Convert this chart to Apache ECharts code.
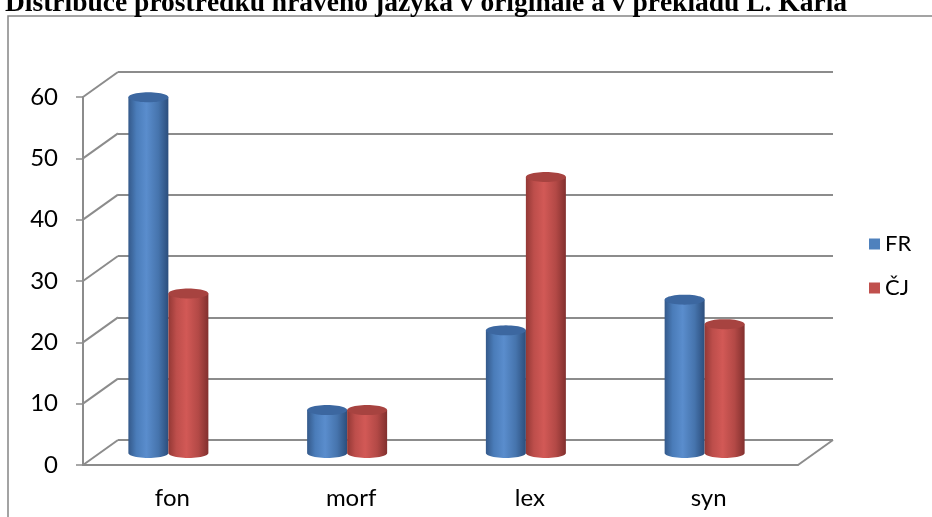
<!DOCTYPE html>
<html>
<head>
<meta charset="utf-8">
<script src="https://cdn.jsdelivr.net/npm/echarts@6/dist/echarts.min.js"></script>
<style>
  html, body { margin: 0; padding: 0; background: #fff; }
  #chart { width: 932px; height: 517px; }
</style>
</head>
<body>
<div id="chart"></div>
<script>
const titleText = 'Distribuce prostředků hravého jazyka v originále a v překladu L. Karla'
const categories = ['fon', 'morf', 'lex', 'syn']
const frValues = [58, 7, 20, 25]
const cjValues = [26, 7, 45, 21]
const yTicks = [0, 10, 20, 30, 40, 50, 60]

const DX = 35 // depth of the fake 3d box
const DY = 25
const gridColor = '#8c8c8c'
const labelFont = 'Lato, "Open Sans", sans-serif'

const chart = echarts.init(document.getElementById('chart'))

// cylinder: body with lower half ellipse + top ellipse
function cylinder (stops, topColor, dx) {
  return function (params, api) {
    const top = api.coord([api.value(0), api.value(1)])
    const base = api.coord([api.value(0), 0])
    const rx = 20
    const ry = 5
    const cx = top[0] + dx
    const body = [[cx - rx, top[1]]]
    for (let i = 0; i <= 24; i++) {
      const a = Math.PI - Math.PI * i / 24
      body.push([cx + rx * Math.cos(a), base[1] + ry * Math.sin(a)])
    }
    body.push([cx + rx, top[1]])
    const cap = []
    for (let i = 0; i < 48; i++) {
      const a = Math.PI * 2 * i / 48
      cap.push([cx + rx * Math.cos(a), top[1] + ry * Math.sin(a)])
    }
    return {
      type: 'group',
      children: [
        {
          type: 'polygon',
          shape: { points: body },
          style: {
            fill: { type: 'linear', x: 0, y: 0, x2: 1, y2: 0, colorStops: stops }
          }
        },
        {
          type: 'polygon',
          shape: { points: cap },
          style: { fill: topColor }
        }
      ]
    }
  }
}

const blueStops = [
  { offset: 0, color: '#34598a' },
  { offset: 0.2, color: '#4a7cb9' },
  { offset: 0.45, color: '#5a8dcd' },
  { offset: 0.75, color: '#4674ad' },
  { offset: 1, color: '#2c4e7c' }
]
const redStops = [
  { offset: 0, color: '#933835' },
  { offset: 0.2, color: '#bd4e4b' },
  { offset: 0.45, color: '#d25956' },
  { offset: 0.75, color: '#b34946' },
  { offset: 1, color: '#82302e' }
]

const option = {
  animation: false,
  title: {
    text: titleText,
    left: 0,
    top: -15,
    textStyle: { fontFamily: '"Liberation Serif", serif', fontWeight: 'bold', fontSize: 27.5, color: '#000' }
  },
  legend: {
    data: ['FR', 'ČJ'],
    orient: 'vertical',
    left: 864,
    top: 228,
    itemGap: 22,
    itemWidth: 11,
    itemHeight: 11,
    icon: 'rect',
    textStyle: { fontFamily: labelFont, fontSize: 22, color: '#000' }
  },
  graphic: [{
    type: 'rect',
    z: -1,
    shape: { x: 8, y: 16, width: 1000, height: 600 },
    style: { fill: 'none', stroke: '#858585', lineWidth: 1.5 }
  }],
  grid: [
    { left: 118, top: 72, width: 715, height: 368 }, // back wall
    { left: 118 - DX, top: 72 + DY, width: 715, height: 368 }, // front axes
    { left: 79, top: 85, width: 715, height: 368 } // bars
  ],
  xAxis: [
    { gridIndex: 0, type: 'category', data: categories, show: false },
    {
      gridIndex: 1,
      type: 'category',
      data: categories,
      axisLine: { lineStyle: { color: gridColor, width: 2 } },
      axisTick: { length: 6, lineStyle: { color: gridColor, width: 1.5 } },
      axisLabel: { margin: 21, color: '#000', fontSize: 24, fontFamily: labelFont }
    },
    { gridIndex: 2, type: 'category', data: categories, show: false }
  ],
  yAxis: [
    {
      gridIndex: 0, type: 'value', min: 0, max: 60, interval: 10,
      axisLine: { show: false },
      axisTick: { show: false },
      axisLabel: { show: false },
      splitLine: { lineStyle: { color: gridColor, width: 2 } }
    },
    {
      gridIndex: 1, type: 'value', min: 0, max: 60, interval: 10,
      axisLine: { show: true, lineStyle: { color: gridColor, width: 2 } },
      axisTick: { show: true, length: 7, lineStyle: { color: gridColor, width: 1.5 } },
      axisLabel: { margin: 25, color: '#000', fontSize: 24, fontFamily: labelFont },
      splitLine: { show: false }
    },
    { gridIndex: 2, type: 'value', min: 0, max: 60, interval: 10, show: false, splitLine: { show: false } }
  ],
  series: [
    {
      // diagonal lines joining front ticks to the back wall
      type: 'custom',
      xAxisIndex: 0,
      yAxisIndex: 0,
      silent: true,
      z: 1,
      data: yTicks.map(v => [0, v]),
      renderItem (params, api) {
        const sys = params.coordSys
        const y = api.coord([0, api.value(1)])[1]
        const style = { stroke: gridColor, lineWidth: 2 }
        const lines = [{ type: 'line', shape: { x1: sys.x - DX, y1: y + DY, x2: sys.x, y2: y }, style }]
        if (api.value(1) === 0) {
          const xr = sys.x + sys.width
          lines.push({ type: 'line', shape: { x1: xr - DX, y1: y + DY, x2: xr, y2: y }, style })
        }
        return { type: 'group', children: lines }
      }
    },
    {
      name: 'FR',
      type: 'custom',
      xAxisIndex: 2,
      yAxisIndex: 2,
      z: 5,
      itemStyle: { color: '#4f81bd' },
      data: frValues.map((v, i) => [i, v]),
      renderItem: cylinder(blueStops, '#3c67a0', -20)
    },
    {
      name: 'ČJ',
      type: 'custom',
      xAxisIndex: 2,
      yAxisIndex: 2,
      z: 5,
      itemStyle: { color: '#c0504d' },
      data: cjValues.map((v, i) => [i, v]),
      renderItem: cylinder(redStops, '#a74340', 20)
    }
  ]
}

chart.setOption(option)
</script>
</body>
</html>
